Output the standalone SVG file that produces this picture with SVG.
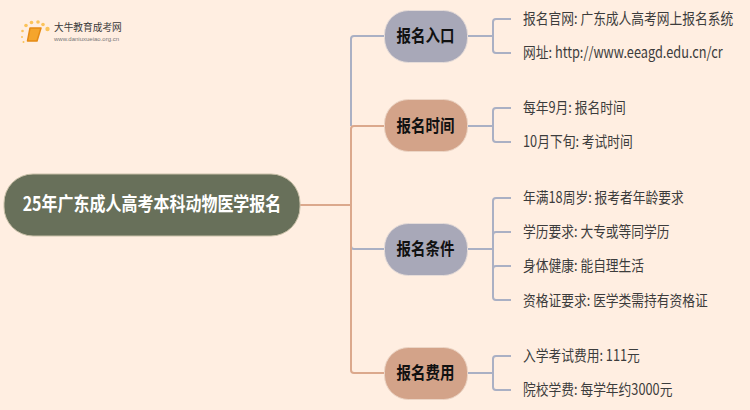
<svg xmlns="http://www.w3.org/2000/svg" width="750" height="410" viewBox="0 0 750 410">
<style>
text{font-family:"Noto Sans CJK SC","Liberation Sans",sans-serif}
.b{fill:none;stroke:#aab0c4;stroke-width:2}
.o{fill:none;stroke:#dba88c;stroke-width:2}
.t{font-size:14.500px;font-weight:700;fill:#111;text-anchor:middle}
.l{font-size:12.750px;fill:#3c3c3c}
.blue{fill:#a8a8b8;stroke:#e6dcd8;stroke-width:1}
.tan{fill:#d3a389;stroke:#ecd5c5;stroke-width:1}
</style>
<rect width="750" height="410" fill="#ffeee1"/>
<g id="logo">
<g fill="#fbc35a"><circle cx="26" cy="25.500" r="1.800"/><circle cx="31.500" cy="22.500" r="1.800"/><circle cx="38" cy="22" r="1.800"/><circle cx="43" cy="24.500" r="1.800"/><circle cx="47.500" cy="29" r="2.200"/><circle cx="22.500" cy="31" r="1.300"/><circle cx="22" cy="37" r="1"/><circle cx="23.500" cy="42" r="1"/></g>
<path d="M30 28H41L37 41H27.500Z" fill="#f5a52c" stroke="#e58a14" stroke-width="1.500" stroke-linejoin="round"/>
<text x="54" y="31" font-size="9.700" fill="#3a3a3a">大牛教育成考网</text>
<text x="54" y="41" font-size="6" fill="#777" style="font-family:'Liberation Sans',sans-serif">www.daniuxueiao.org.cn</text>
</g>
<g id="connectors">
<path class="b" d="M351 126V39Q351 36 354 36H384"/>
<path class="o" d="M300 205H351M351 205V129Q351 126 354 126H384"/>
<path class="b" d="M351 205V246Q351 249 354 249H384"/>
<path class="o" d="M351 205V370Q351 373 354 373H384"/>
<path class="b" d="M468 36H493M511 19H496Q493 19 493 22V50Q493 53 496 53H511"/>
<path class="b" d="M468 126H493M511 108H496Q493 108 493 111V139Q493 142 496 142H511"/>
<path class="b" d="M468 249H493M511 198H496Q493 198 493 201V297Q493 300 496 300H511M493 235Q493 232 496 232H511M493 269Q493 266 496 266H511"/>
<path class="b" d="M468 373H493M511 356H496Q493 356 493 359V387Q493 390 496 390H511"/>
</g>
<g id="root"><rect x="4" y="174" width="296" height="62" rx="29" fill="#68705a" stroke="#c9c0a8" stroke-width="1"/><text transform="translate(152 211) scale(1 1.2)" font-size="16" font-weight="700" fill="#fff" text-anchor="middle">25年广东成人高考本科动物医学报名</text></g>
<g id="n1"><rect class="blue" x="384.500" y="10.500" width="83" height="52" rx="24"/><text class="t" transform="translate(425.500 42) scale(1 1.2)">报名入口</text></g>
<g id="n2"><rect class="tan" x="384.500" y="99.500" width="83" height="52" rx="24"/><text class="t" transform="translate(425.500 132) scale(1 1.2)">报名时间</text></g>
<g id="n3"><rect class="blue" x="384.500" y="223.500" width="83" height="52" rx="24"/><text class="t" transform="translate(425.500 255) scale(1 1.2)">报名条件</text></g>
<g id="n4"><rect class="tan" x="384.500" y="347.500" width="83" height="52" rx="24"/><text class="t" transform="translate(425.500 379) scale(1 1.2)">报名费用</text></g>
<g id="l1"><text class="l" transform="translate(523 24) scale(1 1.2)">报名官网: 广东成人高考网上报名系统</text></g>
<g id="l2"><text class="l" transform="translate(523 58) scale(1 1.2)">网址: http://www.eeagd.edu.cn/cr</text></g>
<g id="l3"><text class="l" transform="translate(523 113) scale(1 1.2)">每年9月: 报名时间</text></g>
<g id="l4"><text class="l" transform="translate(523 147) scale(1 1.2)">10月下旬: 考试时间</text></g>
<g id="l5"><text class="l" transform="translate(523 203) scale(1 1.2)">年满18周岁: 报考者年龄要求</text></g>
<g id="l6"><text class="l" transform="translate(523 237) scale(1 1.2)">学历要求: 大专或等同学历</text></g>
<g id="l7"><text class="l" transform="translate(523 271) scale(1 1.2)">身体健康: 能自理生活</text></g>
<g id="l8"><text class="l" transform="translate(523 306) scale(1 1.2)">资格证要求: 医学类需持有资格证</text></g>
<g id="l9"><text class="l" transform="translate(523 361) scale(1 1.2)">入学考试费用: 111元</text></g>
<g id="l10"><text class="l" transform="translate(523 395) scale(1 1.2)">院校学费: 每学年约3000元</text></g>
</svg>
